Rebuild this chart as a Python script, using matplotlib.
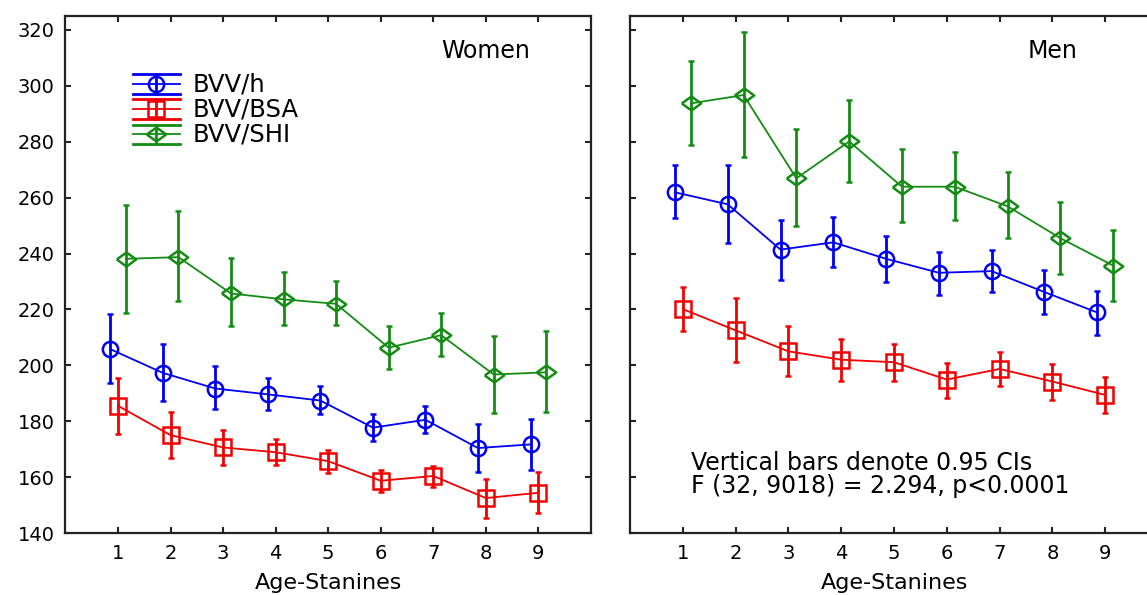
import matplotlib
matplotlib.use("Agg")
import matplotlib.pyplot as plt
import numpy as np
from matplotlib.lines import Line2D

plt.rcParams["font.family"] = ["DejaVu Sans"]

stanines = [1, 2, 3, 4, 5, 6, 7, 8, 9]
series_names = ["BVV/h", "BVV/BSA", "BVV/SHI"]

# Women: means, lower CI, upper CI
women_h = [205.8, 197.3, 191.7, 189.6, 187.4, 177.7, 180.5, 170.4, 171.7]
women_h_lo = [193.6, 187.4, 184.3, 183.9, 182.4, 172.9, 175.7, 161.9, 162.7]
women_h_hi = [218.2, 207.5, 199.6, 195.5, 192.6, 182.5, 185.4, 179.0, 180.8]
women_bsa = [185.5, 175.0, 170.6, 168.9, 165.7, 158.7, 160.4, 152.5, 154.4]
women_bsa_lo = [175.6, 166.7, 164.4, 164.2, 161.5, 154.5, 156.4, 145.4, 147.1]
women_bsa_hi = [195.5, 183.2, 176.7, 173.5, 169.6, 162.5, 164.0, 159.2, 161.9]
women_shi = [238.1, 238.7, 225.7, 223.6, 222.0, 206.3, 210.8, 196.7, 197.5]
women_shi_lo = [218.8, 223.0, 214.0, 214.6, 214.3, 198.8, 203.3, 183.1, 183.3]
women_shi_hi = [257.4, 255.2, 238.3, 233.4, 230.1, 214.0, 218.8, 210.4, 212.1]

# Men
men_h = [261.9, 257.6, 241.4, 244.0, 238.1, 233.1, 233.7, 226.2, 218.9]
men_h_lo = [252.6, 243.6, 230.4, 235.0, 229.8, 225.2, 226.2, 218.2, 210.8]
men_h_hi = [271.7, 271.7, 252.1, 253.1, 246.4, 240.7, 241.2, 234.2, 226.7]
men_bsa = [220.1, 212.5, 205.0, 202.0, 201.1, 194.9, 198.7, 194.2, 189.4]
men_bsa_lo = [212.4, 201.1, 196.1, 194.5, 194.3, 188.3, 192.5, 187.5, 182.9]
men_bsa_hi = [228.0, 224.0, 213.9, 209.5, 207.6, 201.0, 204.8, 200.6, 195.8]
men_shi = [293.7, 296.7, 266.9, 280.1, 263.9, 263.9, 256.9, 245.5, 235.7]
men_shi_lo = [278.7, 274.5, 249.8, 265.7, 251.1, 251.9, 245.4, 232.6, 223.0]
men_shi_hi = [308.8, 319.2, 284.5, 294.9, 277.4, 276.3, 269.0, 258.5, 248.3]

COLORS = ["#0000f0", "#f00000", "#148c14"]
DIAMOND = [(-1.0, 0.0), (0.0, 0.72), (1.0, 0.0), (0.0, -0.72), (-1.0, 0.0)]
MARKERS = ["o", "s", DIAMOND]
MSIZES = [11, 11, 14]
OFFSETS = [-0.15, 0.0, 0.15]


def draw_panel(ax, data, title, show_ylabels):
    for i, (mean, lo, hi) in enumerate(data):
        mean = np.array(mean)
        x = np.array(stanines) + OFFSETS[i]
        yerr = [mean - np.array(lo), np.array(hi) - mean]
        ax.errorbar(x, mean, yerr=yerr, color=COLORS[i], lw=1.3,
                    elinewidth=2.0, capsize=2.5, capthick=2.0,
                    marker=MARKERS[i], ms=MSIZES[i], mfc="none",
                    mec=COLORS[i], mew=1.8)
    ax.set_xlim(0, 10)
    ax.set_ylim(140, 325)
    ax.set_xticks(stanines)
    ax.set_yticks(np.arange(140, 321, 20))
    ax.tick_params(direction="in", length=4, width=1.5, top=True, right=True,
                   labelsize=14, pad=8, colors="#222222", labelcolor="black")
    if not show_ylabels:
        ax.set_yticklabels([])
    for s in ax.spines.values():
        s.set_linewidth(1.6)
        s.set_color("#222222")
    ax.set_xlabel("Age-Stanines", fontsize=16, labelpad=7)
    ax.text(0.8, 0.932, title, transform=ax.transAxes, fontsize=17,
            ha="center", va="center")


fig = plt.figure(figsize=(11.47, 5.95), dpi=100)
ax_w = fig.add_axes([0.0571, 0.1042, 0.4581, 0.869])
ax_m = fig.add_axes([0.5493, 0.1042, 0.4603, 0.869])

draw_panel(ax_w, [(women_h, women_h_lo, women_h_hi),
                  (women_bsa, women_bsa_lo, women_bsa_hi),
                  (women_shi, women_shi_lo, women_shi_hi)], "Women", True)
draw_panel(ax_m, [(men_h, men_h_lo, men_h_hi),
                  (men_bsa, men_bsa_lo, men_bsa_hi),
                  (men_shi, men_shi_lo, men_shi_hi)], "Men", False)

# Statistica-style legend drawn in axes fraction
for i, name in enumerate(series_names):
    yc = 0.868 - i * 0.0485
    x0, x1 = 0.128, 0.218
    xm = (x0 + x1) / 2
    kw = dict(transform=ax_w.transAxes, color=COLORS[i], clip_on=False)
    ax_w.add_line(Line2D([x0, x1], [yc, yc], lw=1.3, **kw))
    ax_w.add_line(Line2D([x0, x1], [yc + 0.019, yc + 0.019], lw=2.0, **kw))
    ax_w.add_line(Line2D([x0, x1], [yc - 0.019, yc - 0.019], lw=2.0, **kw))
    ax_w.add_line(Line2D([xm, xm], [yc - 0.019, yc + 0.019], lw=2.0, **kw))
    ax_w.add_line(Line2D([xm], [yc], marker=MARKERS[i], ms=MSIZES[i],
                         mfc="none", mec=COLORS[i], mew=1.8, ls="none",
                         transform=ax_w.transAxes, clip_on=False))
    ax_w.text(0.242, yc, name, transform=ax_w.transAxes, fontsize=17.5,
              va="center", ha="left")

ax_m.text(0.115, 0.113, "Vertical bars denote 0.95 CIs\nF (32, 9018) = 2.294, p<0.0001",
          transform=ax_m.transAxes, fontsize=17, va="center", ha="left",
          linespacing=0.98)

fig.savefig("out.png", dpi=100)
